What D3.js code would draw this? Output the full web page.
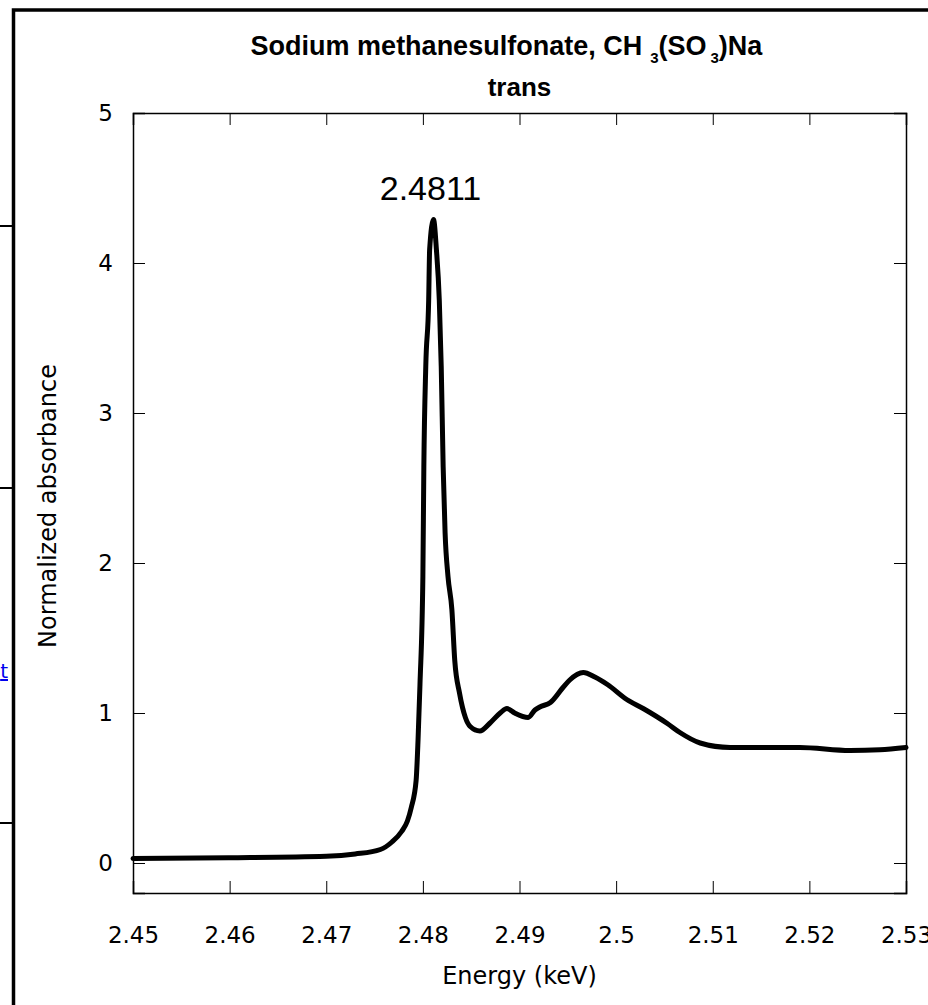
<!DOCTYPE html>
<html>
<head>
<meta charset="utf-8">
<script src="https://cdn.jsdelivr.net/npm/d3@7"></script>
<style>
  body { margin: 0; background: #fff; }
  svg { display: block; }
</style>
</head>
<body>
<svg id="chart" width="928" height="1005"></svg>
<script>
// spectrum (keV, normalized absorbance)
var energy = [2.4500, 2.4599, 2.4700, 2.4730, 2.4756, 2.4768, 2.4778, 2.4784, 2.4788,
    2.4793, 2.4795, 2.4797, 2.4800, 2.4801, 2.4803, 2.4806, 2.4807, 2.4811, 2.4814,
    2.4817, 2.4819, 2.4821, 2.4823, 2.4826, 2.4830, 2.4833, 2.4838, 2.4844, 2.4849,
    2.4859, 2.4869, 2.4880, 2.4887, 2.4895, 2.4909, 2.4916, 2.4921, 2.4932, 2.4945,
    2.4952, 2.4966, 2.4978, 2.4991, 2.5011, 2.5028, 2.5053, 2.5066, 2.5087, 2.5118,
    2.5190, 2.5242, 2.5273, 2.5300];
var absorbance = [0.030, 0.035, 0.045, 0.060, 0.090, 0.140, 0.210, 0.280, 0.370,
    0.550, 0.820, 1.190, 1.910, 2.640, 3.310, 3.750, 4.090, 4.290, 4.090,
    3.750, 3.310, 2.640, 2.200, 1.910, 1.690, 1.350, 1.130, 0.970, 0.910,
    0.880, 0.930, 1.000, 1.030, 1.000, 0.970, 1.020, 1.040, 1.070, 1.170,
    1.220, 1.270, 1.240, 1.190, 1.090, 1.030, 0.930, 0.870, 0.800, 0.770,
    0.770, 0.750, 0.755, 0.770];

var xTicks = [2.45, 2.46, 2.47, 2.48, 2.49, 2.5, 2.51, 2.52, 2.53];
var yTicks = [0, 1, 2, 3, 4, 5];
var peakLabel = "2.4811";
var peakEnergy = 2.4811;

var svg = d3.select("#chart");
var mLeft = 133, mRight = 906, mTop = 113, mBottom = 893;

// page frame bits around the chart
svg.append("rect")
    .attr("x", 13.5).attr("y", 10)
    .attr("width", 1000).attr("height", 1100)
    .attr("fill", "none").attr("stroke", "#000").attr("stroke-width", 3.5);
[226, 488, 823].forEach(function (yy) {
    svg.append("line")
        .attr("x1", 0).attr("x2", 12).attr("y1", yy).attr("y2", yy)
        .attr("stroke", "#000").attr("stroke-width", 2);
});
svg.append("text")
    .attr("x", 8).attr("y", 678)
    .attr("text-anchor", "end")
    .style("font", "20px 'DejaVu Sans'")
    .style("fill", "#0000ee")
    .style("text-decoration", "underline")
    .text("t");

var x = d3.scaleLinear().domain([2.45, 2.53]).range([mLeft, mRight]);
var y = d3.scaleLinear().domain([-0.2, 5]).range([mBottom, mTop]);

var tickFont = "23px 'DejaVu Sans'";

// bottom / top axes, ticks pointing inward
svg.append("g")
    .attr("transform", "translate(0," + mBottom + ")")
    .call(d3.axisBottom(x).tickValues(xTicks).tickSize(-12).tickPadding(34)
        .tickFormat(function (d) { return String(+d.toFixed(2)); }))
    .call(function (g) {
        g.select(".domain").attr("stroke-width", 1.5);
        g.selectAll("text").style("font", tickFont).attr("fill", "#000");
    });
svg.append("g")
    .attr("transform", "translate(0," + mTop + ")")
    .call(d3.axisTop(x).tickValues(xTicks).tickSize(-12).tickFormat(""))
    .call(function (g) { g.select(".domain").attr("stroke-width", 1.5); });

// left / right axes
svg.append("g")
    .attr("transform", "translate(" + mLeft + ",0)")
    .call(d3.axisLeft(y).tickValues(yTicks).tickSize(-12).tickPadding(20)
        .tickFormat(d3.format("d")))
    .call(function (g) {
        g.select(".domain").attr("stroke-width", 1.5);
        g.selectAll("text").style("font", tickFont).attr("fill", "#000");
    });
svg.append("g")
    .attr("transform", "translate(" + mRight + ",0)")
    .call(d3.axisRight(y).tickValues(yTicks).tickSize(-12).tickFormat(""))
    .call(function (g) { g.select(".domain").attr("stroke-width", 1.5); });

// the spectrum
var pts = energy.map(function (e, i) { return [e, absorbance[i]]; });
var line = d3.line()
    .x(function (d) { return x(d[0]); })
    .y(function (d) { return y(d[1]); })
    .curve(d3.curveMonotoneX);
svg.append("path")
    .datum(pts)
    .attr("d", line)
    .attr("fill", "none")
    .attr("stroke", "#000")
    .attr("stroke-width", 5)
    .attr("stroke-linejoin", "round")
    .attr("stroke-linecap", "round");

// peak annotation
svg.append("text")
    .attr("x", x(peakEnergy) - 3).attr("y", 200)
    .attr("text-anchor", "middle")
    .style("font", "34px 'Liberation Sans'")
    .text(peakLabel);

// titles
var cx = (mLeft + mRight) / 2;
var title = svg.append("text")
    .attr("x", cx - 13).attr("y", 55)
    .attr("text-anchor", "middle")
    .style("font", "bold 27px 'Liberation Sans'");
title.append("tspan").text("Sodium methanesulfonate, CH");
title.append("tspan").attr("dx", 8).attr("dy", 8).style("font-size", "15px").text("3");
title.append("tspan").attr("dy", -8).text("(SO");
title.append("tspan").attr("dx", 4).attr("dy", 8).style("font-size", "15px").text("3");
title.append("tspan").attr("dy", -8).text(")Na");

svg.append("text")
    .attr("x", cx).attr("y", 96)
    .attr("text-anchor", "middle")
    .style("font", "bold 26px 'Liberation Sans'")
    .text("trans");

// axis labels
svg.append("text")
    .attr("x", cx).attr("y", 984)
    .attr("text-anchor", "middle")
    .style("font", "24px 'DejaVu Sans'")
    .text("Energy (keV)");
svg.append("text")
    .attr("transform", "translate(56," + ((mTop + mBottom) / 2 + 3) + ") rotate(-90)")
    .attr("text-anchor", "middle")
    .style("font", "24px 'DejaVu Sans'")
    .text("Normalized absorbance");
</script>
</body>
</html>
